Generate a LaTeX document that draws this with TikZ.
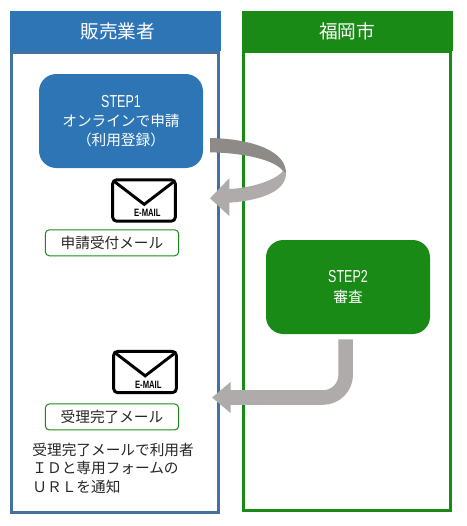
\documentclass[tikz,border=0pt]{standalone}
\usepackage{fontspec}
\setmainfont{Noto Sans CJK JP}
\newfontfamily\stepfont[FakeStretch=0.72]{Liberation Sans}
\usepackage{tikz}
\usetikzlibrary{arrows.meta,positioning}
\definecolor{sellerblue}{HTML}{2E75B6}
\definecolor{sellerline}{HTML}{44719F}
\definecolor{cityline}{HTML}{1A8A16}
\definecolor{arrowlight}{HTML}{AFABAB}
\definecolor{arrowdark}{HTML}{8E8A88}

\begin{document}
\begin{tikzpicture}[
  x=0.75pt, y=-0.75pt,
  head/.style={rectangle, minimum width=158.25pt, minimum height=30pt, inner sep=0pt, outer sep=0pt, text=white, font=\fontsize{14}{16}\selectfont},
  panel/.style={rectangle, draw, line width=2.25pt, minimum width=155.5pt, inner sep=0pt, outer sep=0pt},
  stepbox/.style={rectangle, rounded corners=13pt, minimum width=123pt, minimum height=70.5pt, inner sep=0pt, text=white, align=center, font=\fontsize{11}{14.5}\selectfont},
  mailbox/.style={rectangle, draw=black, line width=2.2pt, rounded corners=3pt, minimum width=47pt, minimum height=31pt, inner sep=0pt},
  mailfold/.style={draw=black, line width=2.2pt},
  maillabel/.style={rectangle, draw=cityline, line width=0.75pt, rounded corners=3pt, minimum width=100pt, minimum height=19.5pt, inner sep=0pt, text=black!85, font=\fontsize{11}{13}\selectfont},
  blockarrow/.style={draw=arrowlight, line width=10.9pt, rounded corners=17pt, -{Triangle[length=14pt,width=22.5pt]}}
]
\useasboundingbox (0,0) rectangle (467,526);

% Two columns
\node[head, fill=sellerblue] (head1) at (115.5,31) {\hspace*{3.4pt}販売業者};
\node[head, fill=cityline] (head2) at (347,31) {福岡市};
\node[panel, draw=sellerline, minimum height=345pt] (panel1) at (115.25,282) {};
\node[panel, draw=cityline, minimum height=344pt] (panel2) at (347,281) {};

% Steps
\node[stepbox, fill=sellerblue] (step1) at (121,121) {{\stepfont\fontsize{13}{14.5}\selectfont STEP1}\\オンラインで申請\\（利用登録）};
\node[stepbox, fill=cityline] (step2) at (348,287) {{\stepfont\fontsize{13}{14.5}\selectfont STEP2}\\審査};

% Mails and their labels
\node[mailbox] (mail1) at (144,200.5) {};
\node[mailbox] (mail2) at (145,372) {};
\foreach \m in {mail1,mail2} {
  \draw[mailfold] (\m.north west) ++(3,3) -- ++(30,23) -- ++(30,-23);
  \node[inner sep=0pt, font=\stepfont\fontsize{8}{8}\selectfont\bfseries] (\m text) at ([xshift=2.5pt,yshift=-9.5pt]\m.center) {E-MAIL};
}
\node[maillabel, below=5pt of mail1, xshift=-24pt] (label1) {申請受付メール};
\node[maillabel, below=7pt of mail2, xshift=-24.75pt] (label2) {受理完了メール};
\node[below=9pt of label2.south west, anchor=north west, xshift=-9.5pt, inner sep=0pt, align=left, text=black!85, font=\fontsize{11}{14}\selectfont] (note) {受理完了メールで利用者\\ＩＤと専用フォームの\\ＵＲＬを通知};

% Arrow back to the first mail
\fill[arrowlight] (283,171) .. controls (275,181) and (250,188) .. (229.3,189) -- (229.3,178.3) -- (210,198.3) -- (229.3,216) -- (229.3,202.7) .. controls (265,200) and (286,190) .. (286,173) -- cycle;
\fill[arrowdark] (210,138) .. controls (255,139) and (286,152) .. (286,173) -- (283,171) .. controls (275,160) and (245,153) .. (210,152.3) -- cycle;

% Arrow from step 2 to the second mail
\coordinate (to2) at (212,397.5);
\draw[blockarrow, shorten <=3.75pt] (step2.south -| 345.7,0) |- (to2);
\end{tikzpicture}
\end{document}
